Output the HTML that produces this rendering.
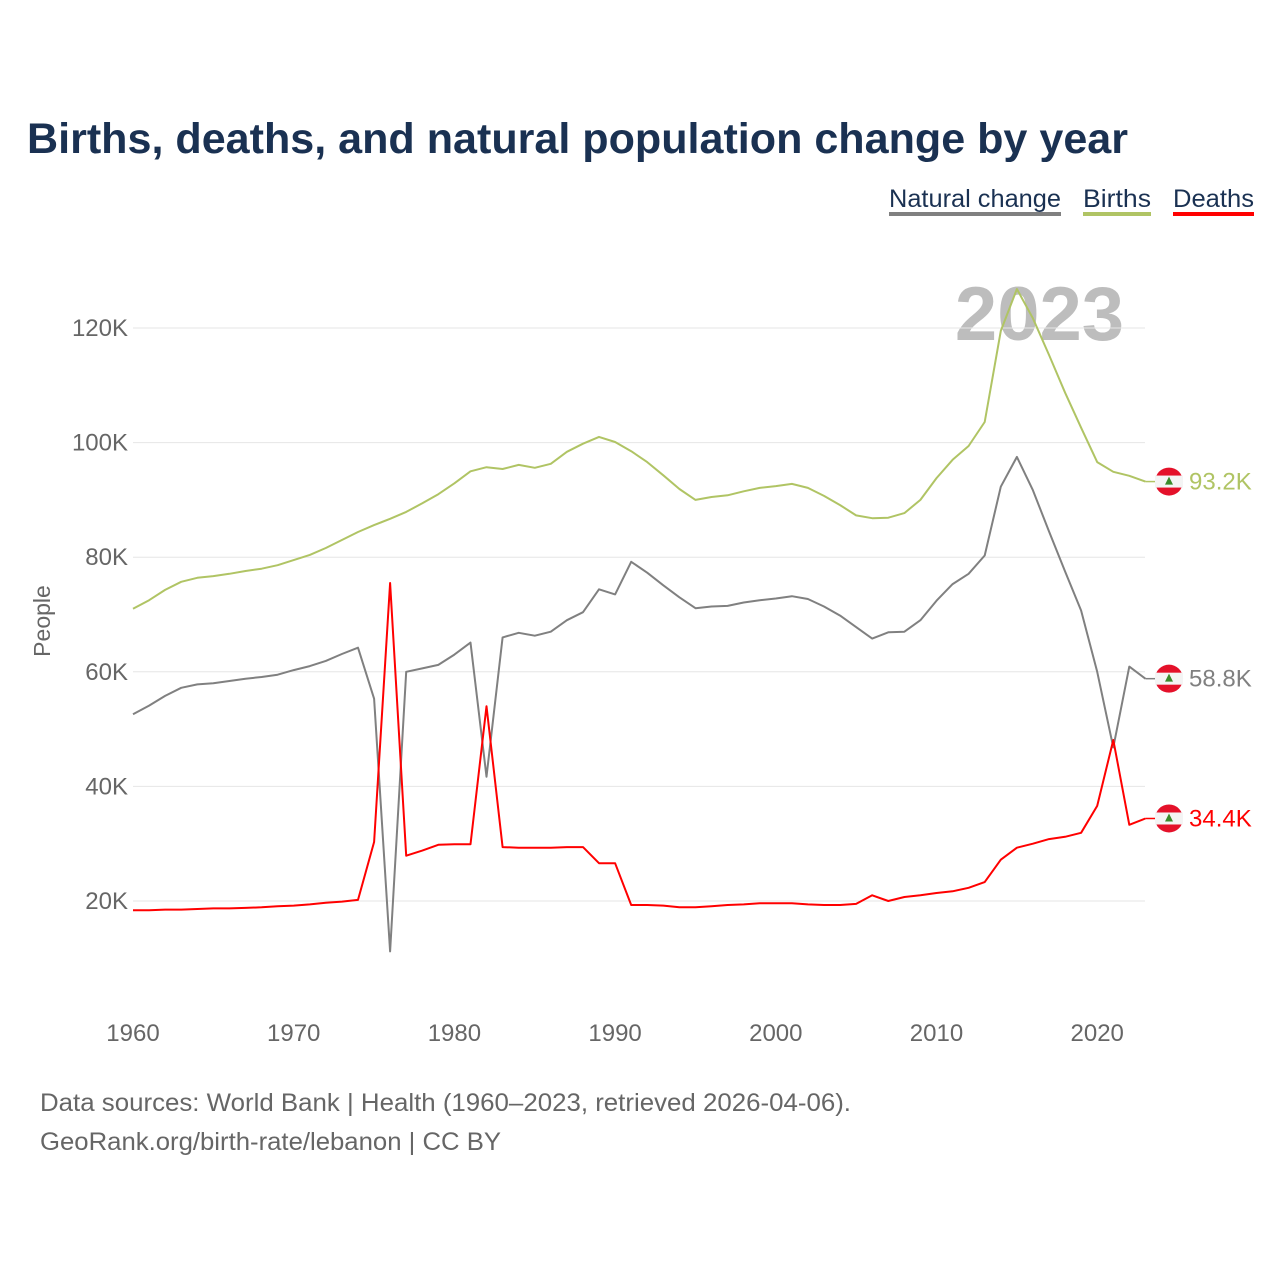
<!DOCTYPE html>
<html><head><meta charset="utf-8"><style>
body{margin:0;background:#fff;width:1280px;height:1280px;overflow:hidden;font-family:"Liberation Sans",sans-serif}
</style></head><body>
<svg width="1280" height="1280" id="chart" font-family="Liberation Sans, sans-serif">
<text x="27" y="153" font-size="43" font-weight="bold" fill="#1a3152" textLength="1101" lengthAdjust="spacingAndGlyphs">Births, deaths, and natural population change by year</text>
<g font-size="25">
<text x="889" y="207" fill="#1a3152" textLength="172" lengthAdjust="spacingAndGlyphs">Natural change</text>
<rect x="889" y="212" width="172" height="4" fill="#808080"/>
<text x="1083" y="207" fill="#1a3152" textLength="68" lengthAdjust="spacingAndGlyphs">Births</text>
<rect x="1083" y="212" width="68" height="4" fill="#b0c464"/>
<text x="1173" y="207" fill="#1a3152" textLength="81" lengthAdjust="spacingAndGlyphs">Deaths</text>
<rect x="1173" y="212" width="81" height="4" fill="#ff0000"/>
</g>
<text x="1124" y="340" text-anchor="end" font-size="76" font-weight="bold" fill="#bdbdbd">2023</text>
<g id="grid"></g><g id="xt"></g><g id="lines"></g><g id="ends"></g>
<text transform="translate(50,621) rotate(-90)" text-anchor="middle" font-size="23" fill="#666">People</text>
<text x="40" y="1111" font-size="25" fill="#666" textLength="811" lengthAdjust="spacingAndGlyphs">Data sources: World Bank | Health (1960–2023, retrieved 2026-04-06).</text>
<text x="40" y="1150" font-size="25" fill="#666" textLength="461" lengthAdjust="spacingAndGlyphs">GeoRank.org/birth-rate/lebanon | CC BY</text>
</svg>
<script>
const years=[];for(let y=1960;y<=2023;y++)years.push(y);
const births=[71.0,72.5,74.3,75.7,76.4,76.7,77.1,77.6,78.0,78.6,79.5,80.4,81.6,83.0,84.4,85.6,86.7,87.9,89.4,91.0,92.9,95.0,95.7,95.4,96.1,95.6,96.3,98.4,99.8,101.0,100.1,98.5,96.6,94.3,91.9,90.0,90.5,90.8,91.5,92.1,92.4,92.8,92.1,90.7,89.1,87.3,86.8,86.9,87.7,90.0,93.8,97.0,99.4,103.6,119.5,126.8,121.7,115.3,108.7,102.6,96.6,94.9,94.2,93.2];
const deaths=[18.4,18.4,18.5,18.5,18.6,18.7,18.7,18.8,18.9,19.1,19.2,19.4,19.7,19.9,20.2,30.3,75.5,27.9,28.8,29.8,29.9,29.9,54.0,29.4,29.3,29.3,29.3,29.4,29.4,26.6,26.6,19.3,19.3,19.2,18.9,18.9,19.1,19.3,19.4,19.6,19.6,19.6,19.4,19.3,19.3,19.5,21.0,20.0,20.7,21.0,21.4,21.7,22.3,23.3,27.2,29.3,30.0,30.8,31.2,31.9,36.6,48.1,33.3,34.4];
const natural=[52.6,54.1,55.8,57.2,57.8,58.0,58.4,58.8,59.1,59.5,60.3,61.0,61.9,63.1,64.2,55.3,11.2,60.0,60.6,61.2,63.0,65.1,41.7,66.0,66.8,66.3,67.0,69.0,70.4,74.4,73.5,79.2,77.3,75.1,73.0,71.1,71.4,71.5,72.1,72.5,72.8,73.2,72.7,71.4,69.8,67.8,65.8,66.9,67.0,69.0,72.4,75.3,77.1,80.3,92.3,97.5,91.7,84.5,77.5,70.7,60.0,46.8,60.9,58.8];
const yTicks=[20,40,60,80,100,120];
const xTicks=[1960,1970,1980,1990,2000,2010,2020];
const NS='http://www.w3.org/2000/svg';
const X=y=>133+(y-1960)*16.07, Y=v=>1015.6-v*5.73;
function mk(t,a,p){const e=document.createElementNS(NS,t);for(const k in a)e.setAttribute(k,a[k]);p.appendChild(e);return e;}
const g=document.getElementById('grid');
yTicks.forEach(v=>{
 const l=mk('line',{x1:133,x2:1145,y1:Y(v),y2:Y(v),stroke:'#e6e6e6','stroke-width':1},g);
 
 
 const t=mk('text',{x:128,y:Y(v)+8,'text-anchor':'end','font-size':24,fill:'#666'},g);t.textContent=v+'K';
 
 
});
const xt=document.getElementById('xt');
xTicks.forEach(v=>{
 const t=mk('text',{x:X(v),y:1041,'text-anchor':'middle','font-size':24,fill:'#666'},xt);t.textContent=v;
 
 
});
const L=document.getElementById('lines'),E=document.getElementById('ends');
[[natural,'#808080','natural-change'],[births,'#b0c464','births'],[deaths,'#ff0000','deaths']].forEach(([d,c,n])=>{
 const p=mk('path',{d:d.map((v,i)=>(i?'L':'M')+X(years[i]).toFixed(1)+','+Y(v).toFixed(1)).join(''),fill:'none',stroke:c,'stroke-width':2,'stroke-linejoin':'round'},L);
 
 
 const v=d[d.length-1],yy=Y(v),x0=X(2023);
 mk('line',{x1:x0,x2:1156,y1:yy,y2:yy,stroke:c,'stroke-width':1.5},E);
 const fg=mk('g',{},E);
 
 
 mk('circle',{cx:1169,cy:yy,r:14,fill:'#e4112a'},fg);
 mk('rect',{x:1155,y:yy-6,width:28,height:12,fill:'#f4f4f4'},fg);
 mk('polygon',{points:`1169,${yy-5} 1165,${yy+3} 1173,${yy+3}`,fill:'#3a8a2a'},fg);
 const t=mk('text',{x:1189,y:yy+8,'font-size':24,fill:c},E);t.textContent=v.toFixed(1)+'K';
 
 
});
</script>
</body></html>
